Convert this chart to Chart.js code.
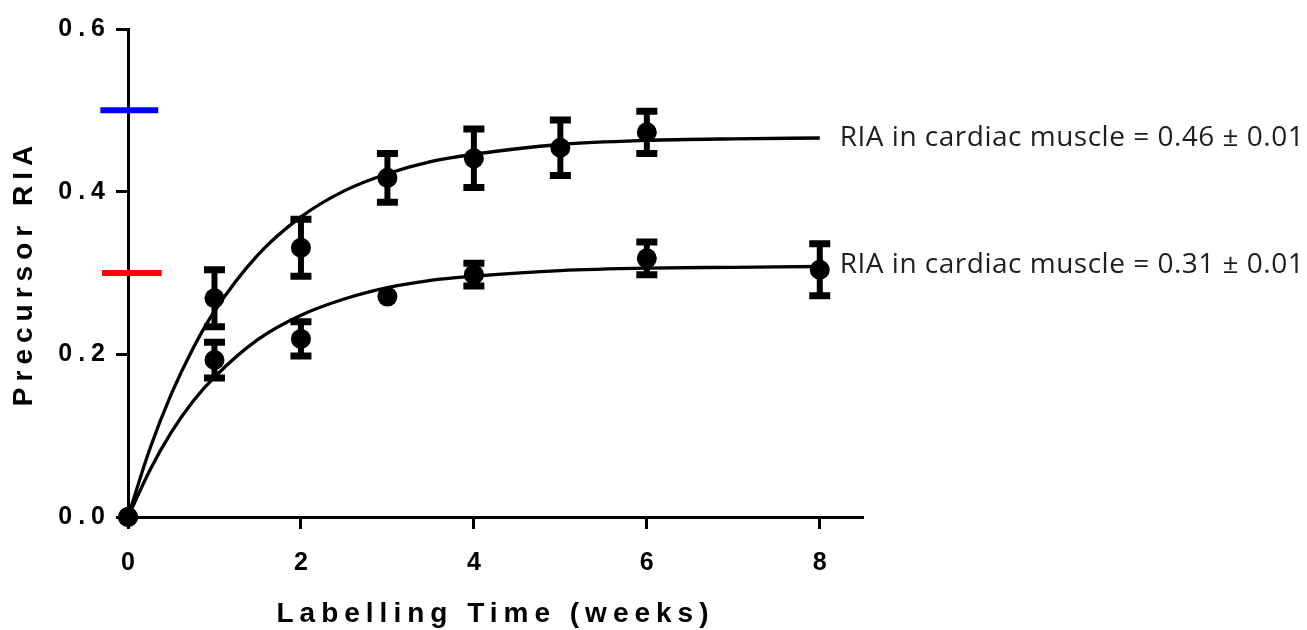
<!DOCTYPE html>
<html>
<head>
<meta charset="utf-8">
<script src="https://cdn.jsdelivr.net/npm/chart.js@4.4.1/dist/chart.umd.min.js"></script>
<style>
  html, body { margin: 0; padding: 0; background: #ffffff; }
  #wrap { width: 1307px; height: 630px; }
</style>
</head>
<body>
<div id="wrap"><canvas id="c" width="1307" height="630"></canvas></div>
<script>
// ---- data ----
const weeksA = [0, 1, 2, 3, 4, 5, 6];
const meanA  = [0, 0.269, 0.331, 0.417, 0.441, 0.454, 0.473];
const errA   = [0, 0.035, 0.035, 0.030, 0.036, 0.034, 0.026];

const weeksB = [0, 1, 2, 3, 4, 6, 8];
const meanB  = [0, 0.193, 0.219, 0.271, 0.298, 0.318, 0.304];
const errB   = [0, 0.022, 0.021, 0, 0.014, 0.020, 0.032];

const fitWeeks = [0, 0.25, 0.5, 0.75, 1, 1.5, 2, 2.5, 3, 3.5, 4, 5, 6, 7, 8];
const fitA = [0, 0.083, 0.151, 0.207, 0.253, 0.322, 0.369, 0.401, 0.422, 0.437, 0.446, 0.458, 0.463, 0.465, 0.466];
const fitB = [0, 0.057, 0.104, 0.142, 0.172, 0.218, 0.248, 0.268, 0.282, 0.291, 0.296, 0.303, 0.306, 0.307, 0.308];

const blueLevel = 0.5;
const blueSpan  = [-0.32, 0.35];
const redLevel  = 0.3;
const redSpan   = [-0.30, 0.39];

const xTicks = [0, 2, 4, 6, 8];
const yTicks = [0, 0.2, 0.4, 0.6];

const noteTexts = ['RIA in cardiac muscle = 0.46 \u00B1 0.01', 'RIA in cardiac muscle = 0.31 \u00B1 0.01'];
const noteLevels = [0.466, 0.31];
const noteWeek = 8;

const xTitle = 'Labelling Time (weeks)';
const yTitle = 'Precursor RIA';

// ---- build datasets ----
const toXY = (xs, ys) => xs.map((x, i) => ({ x: x, y: ys[i] }));

const errorBars = {
  id: 'errorBars',
  afterDatasetsDraw(chart) {
    const ctx = chart.ctx;
    const xs = chart.scales.x, ys = chart.scales.y;
    const groups = [[weeksA, meanA, errA], [weeksB, meanB, errB]];
    ctx.save();
    ctx.strokeStyle = '#000';
    ctx.lineCap = 'butt';
    groups.forEach(([wx, m, e]) => {
      wx.forEach((w, i) => {
        if (!e[i]) return;
        const px = xs.getPixelForValue(w);
        const top = ys.getPixelForValue(m[i] + e[i]);
        const bot = ys.getPixelForValue(m[i] - e[i]);
        ctx.lineWidth = 6;
        ctx.beginPath(); ctx.moveTo(px, top); ctx.lineTo(px, bot); ctx.stroke();
        ctx.lineWidth = 7;
        ctx.beginPath();
        ctx.moveTo(px - 10.5, top); ctx.lineTo(px + 10.5, top);
        ctx.moveTo(px - 10.5, bot); ctx.lineTo(px + 10.5, bot);
        ctx.stroke();
      });
    });
    ctx.restore();
  }
};

const spacing = {
  id: 'spacing',
  beforeDraw(chart) { chart.ctx.letterSpacing = '6px'; },
  afterDraw(chart) {
    const ctx = chart.ctx;
    ctx.save();
    ctx.letterSpacing = '0.5px';
    ctx.fillStyle = '#1e1e1e';
    ctx.font = '28px "Open Sans", Lato, sans-serif';
    ctx.textAlign = 'left';
    ctx.textBaseline = 'middle';
    const xs = chart.scales.x, ys = chart.scales.y;
    noteTexts.forEach((t, i) => {
      ctx.fillText(t, xs.getPixelForValue(noteWeek) + 20, ys.getPixelForValue(noteLevels[i]));
    });
    ctx.restore();
  }
};

new Chart(document.getElementById('c'), {
  type: 'scatter',
  data: {
    datasets: [
      { data: toXY(fitWeeks, fitA), showLine: true, borderColor: '#000', borderWidth: 3.3, pointRadius: 0, cubicInterpolationMode: 'monotone', clip: false },
      { data: toXY(fitWeeks, fitB), showLine: true, borderColor: '#000', borderWidth: 3.3, pointRadius: 0, cubicInterpolationMode: 'monotone', clip: false },
      { data: toXY(weeksA, meanA), showLine: false, pointRadius: 10, pointBackgroundColor: '#000', pointBorderWidth: 0, clip: false },
      { data: toXY(weeksB, meanB), showLine: false, pointRadius: 10, pointBackgroundColor: '#000', pointBorderWidth: 0, clip: false },
      { data: toXY(blueSpan, [blueLevel, blueLevel]), showLine: true, borderColor: '#0000ff', borderWidth: 6, pointRadius: 0, clip: false },
      { data: toXY(redSpan, [redLevel, redLevel]), showLine: true, borderColor: '#ff0000', borderWidth: 6, pointRadius: 0, clip: false }
    ]
  },
  options: {
    responsive: false,
    devicePixelRatio: 1,
    animation: false,
    events: [],
    layout: { padding: { top: 29, right: 444, bottom: 0, left: 0 } },
    plugins: { legend: { display: false }, tooltip: { enabled: false } },
    scales: {
      x: {
        type: 'linear', min: 0, max: 8.5,
        afterBuildTicks: s => { s.ticks = xTicks.map(v => ({ value: v })); },
        afterFit: s => { s.height = 113; },
        border: { display: true, color: '#000', width: 3 },
        grid: { display: true, drawOnChartArea: false, drawTicks: true, tickLength: 12, tickWidth: 3, tickColor: '#000' },
        ticks: { color: '#000', font: { family: '"Liberation Sans", Arial, sans-serif', weight: 'bold', size: 25 }, padding: 19, labelOffset: 3, includeBounds: false },
        title: { display: true, text: xTitle, color: '#000', font: { family: '"Liberation Sans", Arial, sans-serif', weight: 'bold', size: 28, lineHeight: 1 }, padding: { top: 0, bottom: 2 } }
      },
      y: {
        type: 'linear', min: 0, max: 0.6,
        afterBuildTicks: s => { s.ticks = yTicks.map(v => ({ value: v })); },
        afterFit: s => { s.width = 128; },
        border: { display: true, color: '#000', width: 3 },
        grid: { display: true, drawOnChartArea: false, drawTicks: true, tickLength: 12, tickWidth: 3, tickColor: '#000' },
        ticks: { color: '#000', font: { family: '"Liberation Sans", Arial, sans-serif', weight: 'bold', size: 25 }, padding: 5, callback: v => Number(v).toFixed(1) },
        title: { display: true, text: yTitle, color: '#000', font: { family: '"Liberation Sans", Arial, sans-serif', weight: 'bold', size: 28, lineHeight: 1 }, padding: { top: 10, bottom: 0 } }
      }
    }
  },
  plugins: [errorBars, spacing]
});
</script>
</body>
</html>
